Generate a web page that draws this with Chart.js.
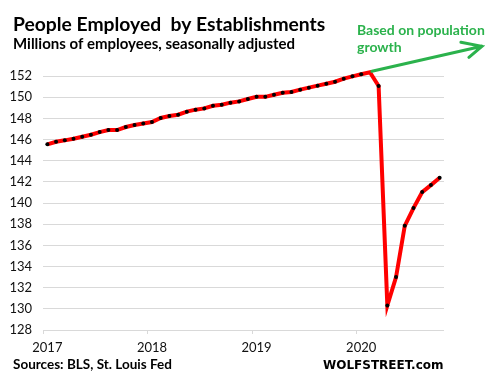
<!DOCTYPE html>
<html>
<head>
<meta charset="utf-8">
<script src="https://cdn.jsdelivr.net/npm/chart.js@4/dist/chart.umd.min.js"></script>
<style>
  body { margin: 0; background: #fff; }
  #chart { display: block; }
</style>
</head>
<body>
<canvas id="chart" width="500" height="383"></canvas>
<script>
// monthly, Jan 2017 .. Oct 2020, millions
const years = ["2017", "2018", "2019", "2020"];
const months = ["Jan","Feb","Mar","Apr","May","Jun","Jul","Aug","Sep","Oct","Nov","Dec"];

const employed2017 = [145.54, 145.79, 145.92, 146.07, 146.26, 146.45, 146.70, 146.89, 146.89, 147.18, 147.37, 147.52];
const employed2018 = [147.65, 148.03, 148.22, 148.34, 148.63, 148.82, 148.94, 149.19, 149.29, 149.48, 149.60, 149.83];
const employed2019 = [150.03, 150.03, 150.23, 150.42, 150.49, 150.71, 150.90, 151.09, 151.27, 151.46, 151.75, 151.97];
const employed2020 = [152.16, 152.35, 151.05, 130.32, 133.00, 137.85, 139.52, 141.03, 141.69, 142.38];

const yTickValues = [128, 130, 132, 134, 136, 138, 140, 142, 144, 146, 148, 150, 152];

const labels = [];
years.forEach((y) => months.forEach((m) => labels.push(m + " " + y)));
const values = [...employed2017, ...employed2018, ...employed2019, ...employed2020];
labels.length = values.length;

const GREEN = "#2bb24c";
const GRID = "#d9d9d9";

// warm up the fonts so the first label drawn is not lost
const warm = document.createElement("canvas").getContext("2d");
["13px Lato", "bold 14px Lato", "bold 12px 'DejaVu Sans'"].forEach((f) => {
  warm.font = f;
  warm.fillText("128", 0, 10);
});

const annotations = {
  id: "wsAnnotations",
  afterDraw(chart) {
    const c = chart.ctx;
    c.save();
    c.fillStyle = "#000";
    c.textBaseline = "alphabetic";
    c.textAlign = "left";
    c.font = "bold 19.3px Lato";
    c.fillText("People Employed  by Establishments", 13, 31);
    c.font = "bold 15px Lato";
    c.fillText("Millions of employees, seasonally adjusted", 13, 49);
    c.font = "bold 13.5px Lato";
    c.fillText("Sources: BLS, St. Louis Fed", 13, 369);
    c.font = "bold 12px 'DejaVu Sans'";
    c.fillText("WOLFSTREET.com", 323, 369);

    c.fillStyle = GREEN;
    c.font = "bold 14px Lato";
    c.fillText("Based on population", 357, 35);
    c.fillText("growth", 357, 52);

    // projection arrow from the Feb 2020 peak
    const peak = values.indexOf(Math.max(...values));
    const x0 = chart.scales.x.getPixelForValue(peak);
    const y0 = chart.scales.y.getPixelForValue(values[peak]);
    const x1 = x0 + 112, y1 = y0 - 26;
    c.strokeStyle = GREEN;
    c.lineWidth = 3;
    c.lineCap = "round";
    c.beginPath();
    c.moveTo(x0 + 2, y0 - 1);
    c.lineTo(x1, y1);
    c.moveTo(x1 - 21, y1 - 4);
    c.lineTo(x1, y1);
    c.lineTo(x1 - 13, y1 + 11);
    c.stroke();
    c.restore();
  },
};

const chart = new Chart(document.getElementById("chart"), {
  type: "line",
  data: {
    labels: labels,
    datasets: [
      {
        data: values,
        clip: false,
        borderColor: "#ff0000",
        borderWidth: 4,
        tension: 0,
        pointRadius: 2,
        pointBorderWidth: 0,
        pointBackgroundColor: "#000",
        pointHoverRadius: 2,
      },
    ],
  },
  options: {
    responsive: false,
    animation: false,
    layout: { padding: { left: 0, top: 76, right: 56, bottom: 28 } },
    plugins: { legend: { display: false } },
    scales: {
      x: {
        offset: true,
        afterFit: (s) => { s.height = 25; },
        grid: {
          offset: true,
          drawOnChartArea: false,
          tickLength: 4,
          tickColor: (ctx) => (ctx.index % 12 === 0 ? GRID : "rgba(0,0,0,0)"),
        },
        border: { display: false },
        ticks: {
          autoSkip: false,
          maxRotation: 0,
          padding: 6,
          color: "#111",
          font: { family: "Lato", size: 13 },
          callback: (v, i) => (i % 12 === 0 ? labels[i].split(" ")[1] : ""),
        },
      },
      y: {
        min: yTickValues[0],
        max: yTickValues[yTickValues.length - 1],
        afterFit: (s) => { s.width = 43; },
        afterBuildTicks: (s) => { s.ticks = yTickValues.map((v) => ({ value: v })); },
        grid: { color: GRID, drawTicks: false },
        border: { display: false },
        ticks: {
          autoSkip: false,
          padding: 11,
          color: "#111",
          font: { family: "Lato", size: 13 },
        },
      },
    },
  },
  plugins: [annotations],
});

document.fonts.ready.then(() => chart.draw());
</script>
</body>
</html>
